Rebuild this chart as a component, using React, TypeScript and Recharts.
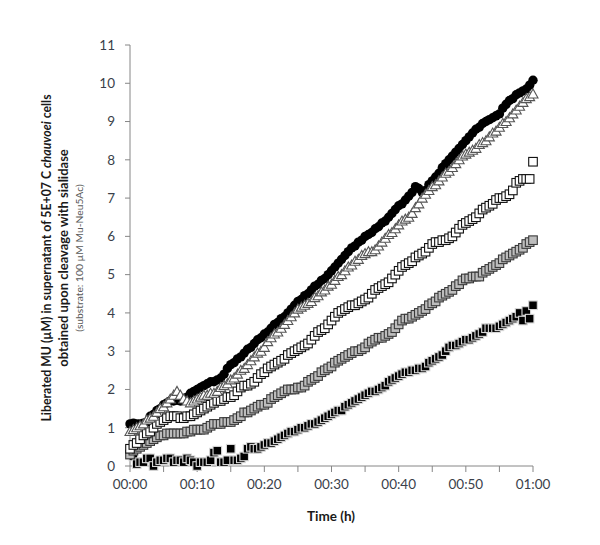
import { ScatterChart, Scatter, XAxis, YAxis } from 'recharts'

// sampling interval of the plate reader (minutes)
const STEP_MIN = 0.5

// liberated MU (µM), one value per 30 s from 00:00 to 01:00
const circlesBlack = [
  1.1, 1.12, 1.1, 1.1, 1.12, 1.15, 1.3, 1.35, 1.45, 1.5,
  1.6, 1.65, 1.7, 1.7, 1.72, 1.7, 1.75, 1.8, 1.9, 1.95,
  2.0, 2.05, 2.1, 2.15, 2.2, 2.2, 2.25, 2.3, 2.4, 2.55,
  2.65, 2.7, 2.8, 2.85, 2.95, 3.05, 3.1, 3.2, 3.3, 3.35,
  3.45, 3.5, 3.6, 3.7, 3.75, 3.85, 3.9, 4.0, 4.1, 4.2,
  4.3, 4.35, 4.45, 4.5, 4.6, 4.7, 4.75, 4.85, 4.9, 5.0,
  5.1, 5.2, 5.3, 5.4, 5.5, 5.6, 5.7, 5.75, 5.85, 5.9,
  6.0, 6.05, 6.1, 6.2, 6.25, 6.35, 6.4, 6.5, 6.6, 6.7,
  6.8, 6.85, 6.95, 7.05, 7.15, 7.3, 7.25, 7.15, 7.2, 7.35,
  7.45, 7.55, 7.65, 7.8, 7.9, 8.0, 8.1, 8.2, 8.3, 8.4,
  8.5, 8.6, 8.7, 8.8, 8.85, 8.95, 9.0, 9.05, 9.1, 9.15,
  9.2, 9.35, 9.45, 9.55, 9.6, 9.7, 9.75, 9.8, 9.85, 9.95,
  10.08,
]

const trianglesOpen = [
  0.9, 0.95, 1.0, 1.05, 1.1, 1.2, 1.25, 1.3, 1.4, 1.5,
  1.55, 1.65, 1.75, 1.85, 1.95, 1.85, 1.75, 1.7, 1.65, 1.7,
  1.75, 1.8, 1.85, 1.85, 1.9, 1.9, 1.95, 2.05, 2.1, 2.15,
  2.25, 2.3, 2.4, 2.5, 2.55, 2.65, 2.75, 2.85, 2.95, 3.0,
  3.1, 3.25, 3.35, 3.45, 3.5, 3.6, 3.7, 3.8, 3.9, 4.0,
  4.1, 4.15, 4.2, 4.25, 4.3, 4.4, 4.45, 4.55, 4.6, 4.7,
  4.75, 4.85, 4.95, 5.0, 5.1, 5.2, 5.25, 5.35, 5.4, 5.5,
  5.55, 5.6, 5.6, 5.65, 5.75, 5.85, 5.95, 6.05, 6.1, 6.2,
  6.3, 6.4, 6.45, 6.5, 6.6, 6.75, 6.85, 7.0, 7.1, 7.2,
  7.3, 7.35, 7.45, 7.55, 7.65, 7.7, 7.8, 7.9, 8.0, 8.1,
  8.15, 8.2, 8.25, 8.3, 8.4, 8.45, 8.5, 8.6, 8.7, 8.75,
  8.85, 8.95, 9.0, 9.1, 9.2, 9.3, 9.4, 9.5, 9.6, 9.65,
  9.72,
]

const squaresOpen = [
  0.45, 0.55, 0.6, 0.7, 0.8, 0.85, 0.9, 1.0, 1.1, 1.15,
  1.2, 1.25, 1.3, 1.3, 1.3, 1.25, 1.25, 1.3, 1.3, 1.35,
  1.4, 1.45, 1.5, 1.55, 1.6, 1.65, 1.7, 1.7, 1.75, 1.8,
  1.8, 1.85, 1.95, 2.05, 2.1, 2.1, 2.15, 2.2, 2.3, 2.4,
  2.45, 2.55, 2.6, 2.65, 2.7, 2.75, 2.8, 2.9, 2.95, 3.0,
  3.05, 3.1, 3.15, 3.2, 3.3, 3.4, 3.5, 3.55, 3.6, 3.7,
  3.8, 3.9, 4.0, 4.05, 4.1, 4.15, 4.2, 4.2, 4.25, 4.3,
  4.35, 4.4, 4.5, 4.6, 4.65, 4.7, 4.75, 4.8, 4.9, 5.0,
  5.1, 5.2, 5.25, 5.3, 5.35, 5.45, 5.5, 5.55, 5.6, 5.7,
  5.8, 5.85, 5.85, 5.9, 5.9, 5.95, 6.0, 6.1, 6.2, 6.3,
  6.35, 6.4, 6.45, 6.5, 6.6, 6.7, 6.75, 6.8, 6.85, 6.95,
  7.0, 7.0, 7.05, 7.1, 7.2, 7.4, 7.45, 7.5, 7.5, 7.5,
  7.95,
]

const squaresGrey = [
  0.3, 0.4, 0.45, 0.5, 0.55, 0.6, 0.65, 0.7, 0.75, 0.8,
  0.8, 0.85, 0.85, 0.85, 0.85, 0.85, 0.85, 0.9, 0.9, 0.95,
  0.95, 0.95, 0.95, 1.0, 1.05, 1.1, 1.1, 1.1, 1.15, 1.15,
  1.15, 1.2, 1.25, 1.3, 1.4, 1.4, 1.45, 1.5, 1.55, 1.6,
  1.6, 1.65, 1.75, 1.8, 1.85, 1.9, 1.95, 2.0, 2.0, 2.0,
  2.05, 2.05, 2.1, 2.2, 2.25, 2.3, 2.35, 2.45, 2.5, 2.55,
  2.6, 2.7, 2.75, 2.8, 2.85, 2.9, 2.95, 3.0, 3.0, 3.05,
  3.1, 3.2, 3.25, 3.3, 3.35, 3.35, 3.4, 3.45, 3.5, 3.6,
  3.7, 3.8, 3.85, 3.85, 3.9, 3.95, 4.0, 4.05, 4.1, 4.2,
  4.25, 4.3, 4.4, 4.45, 4.5, 4.55, 4.6, 4.7, 4.75, 4.85,
  4.9, 4.9, 4.95, 4.95, 4.95, 5.05, 5.1, 5.15, 5.2, 5.25,
  5.3, 5.4, 5.45, 5.5, 5.55, 5.6, 5.65, 5.7, 5.8, 5.85,
  5.9,
]

const squaresBlack = [
  0.3, 0.25, 0.05, 0.1, 0.1, 0.2, 0.2, 0.0, 0.1, 0.15,
  0.15, 0.2, 0.2, 0.1, 0.15, 0.15, 0.1, 0.2, 0.15, 0.1,
  0.0, 0.1, 0.1, 0.1, 0.15, 0.35, 0.4, 0.1, 0.1, 0.15,
  0.45, 0.15, 0.15, 0.2, 0.25, 0.45, 0.5, 0.45, 0.45, 0.5,
  0.55, 0.6, 0.6, 0.65, 0.7, 0.75, 0.8, 0.85, 0.9, 0.9,
  0.95, 1.0, 1.0, 1.05, 1.1, 1.1, 1.15, 1.2, 1.25, 1.3,
  1.35, 1.4, 1.45, 1.45, 1.55, 1.6, 1.65, 1.7, 1.75, 1.8,
  1.85, 1.9, 1.95, 1.95, 2.0, 2.05, 2.1, 2.2, 2.25, 2.3,
  2.35, 2.4, 2.45, 2.45, 2.5, 2.5, 2.55, 2.55, 2.6, 2.7,
  2.75, 2.8, 2.85, 2.9, 3.0, 3.1, 3.15, 3.15, 3.2, 3.25,
  3.3, 3.3, 3.35, 3.4, 3.45, 3.5, 3.6, 3.6, 3.6, 3.6,
  3.65, 3.7, 3.75, 3.8, 3.85, 3.9, 4.0, 3.8, 4.05, 3.85,
  4.2,
]

const xTicks = [0, 5, 10, 15, 20, 25, 30, 35, 40, 45, 50, 55, 60]
const yTicks = [0, 1, 2, 3, 4, 5, 6, 7, 8, 9, 10, 11]

const toPoints = (values: number[]) => values.map((mu, i) => ({ t: i * STEP_MIN, mu }))

const FONT = 'Lato, "Open Sans", sans-serif'
const AXIS = '#868686'
const TICK_TEXT = '#3a3f4a'

function fmtTime(min: number) {
  const h = Math.floor(min / 60)
  const m = min % 60
  return `${String(h).padStart(2, '0')}:${String(m).padStart(2, '0')}`
}

function TimeTick({ x, y, payload }: any) {
  if (payload.value % 10 !== 0) return null
  return (
    <text x={x} y={y} dy={15} textAnchor="middle" fill={TICK_TEXT} fontSize={13.5} fontFamily={FONT}>
      {fmtTime(payload.value)}
    </text>
  )
}

const Dot = ({ cx, cy }: any) => <circle cx={cx} cy={cy} r={4.7} fill="#000" />

const Tri = ({ cx, cy }: any) => (
  <polygon
    points={`${cx},${cy - 5} ${cx - 5},${cy + 4} ${cx + 5},${cy + 4}`}
    fill="#fff"
    stroke="#555"
    strokeWidth={1.1}
  />
)

const square = (fill: string, stroke: string) => ({ cx, cy }: any) => (
  <rect x={cx - 4.3} y={cy - 4.3} width={8.6} height={8.6} fill={fill} stroke={stroke} strokeWidth={1.1} />
)

export default function App() {
  return (
    <div style={{ position: 'absolute', left: 0, top: 0, width: 600, height: 545, background: '#fff' }}>
      <ScatterChart width={600} height={545} margin={{ top: 45, right: 67, bottom: 49, left: 90 }}>
        <XAxis
          type="number"
          dataKey="t"
          domain={[0, 60]}
          ticks={xTicks}
          interval={0}
          height={30}
          stroke={AXIS}
          tickSize={6}
          tick={<TimeTick />}
        />
        <YAxis
          type="number"
          dataKey="mu"
          domain={[0, 11]}
          ticks={yTicks}
          interval={0}
          width={40}
          stroke={AXIS}
          tickSize={5}
          tickMargin={10}
          tick={{ fill: TICK_TEXT, fontSize: 13.5, fontFamily: FONT }}
        />
        <Scatter data={toPoints(squaresBlack)} shape={square('#000', '#d8d8d8')} isAnimationActive={false} />
        <Scatter data={toPoints(squaresGrey)} shape={square('#bdbdbd', '#3a3a3a')} isAnimationActive={false} />
        <Scatter data={toPoints(squaresOpen)} shape={square('#fff', '#111')} isAnimationActive={false} />
        <Scatter data={toPoints(circlesBlack)} shape={<Dot />} isAnimationActive={false} />
        <Scatter data={toPoints(trianglesOpen)} shape={<Tri />} isAnimationActive={false} />
      </ScatterChart>

      <svg width={600} height={545} style={{ position: 'absolute', left: 0, top: 0, pointerEvents: 'none' }}>
        <g fontFamily={FONT} textAnchor="middle">
          <text transform="translate(51,258) rotate(-90)" fontSize={12.3} fontWeight="bold" fill="#1a1a1a">
            Liberated MU (µM) in supernatant of 5E+07 C <tspan fontStyle="italic">chauvoei</tspan> cells
          </text>
          <text transform="translate(68,258) rotate(-90)" fontSize={13} fontWeight="bold" fill="#1a1a1a">
            obtained upon cleavage with sialidase
          </text>
          <text transform="translate(83,258) rotate(-90)" fontSize={10.3} fill="#595959">
            (substrate: 100 µM Mu-Neu5Ac)
          </text>
          <text x={331} y={521} fontSize={13.5} fontWeight="bold" fill="#1a1a1a">
            Time (h)
          </text>
        </g>
      </svg>
    </div>
  )
}
